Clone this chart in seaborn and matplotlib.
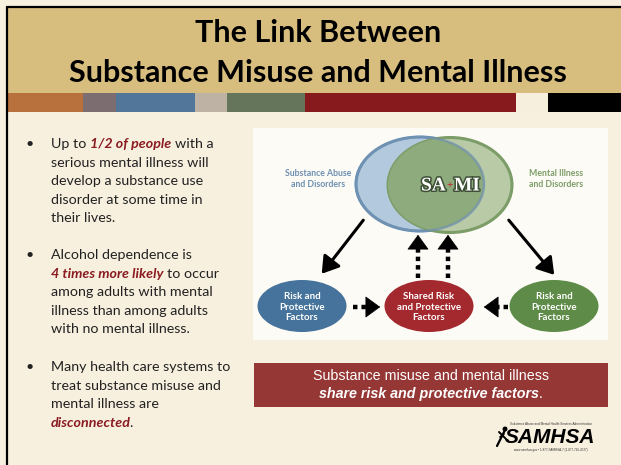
import matplotlib
matplotlib.use("Agg")
import matplotlib.pyplot as plt
import matplotlib.patheffects as pe
from matplotlib.patches import Rectangle, Ellipse, FancyArrowPatch
import seaborn as sns

# slide content
title_lines = ["The Link Between", "Substance Misuse and Mental Illness"]
stripe_colors = ["#B8703C", "#7C6D70", "#52769A", "#BDB2A3", "#65755B",
                 "#861A1D", "#F7EFDD", "#000000"]
bullets = [
    [[("Up to", False), ("1/2 of people", True), ("with a", False)],
     [("serious mental illness will", False)],
     [("develop a substance use", False)],
     [("disorder at some time in", False)],
     [("their lives.", False)]],
    [[("Alcohol dependence is", False)],
     [("4 times more likely", True), ("to occur", False)],
     [("among adults with mental", False)],
     [("illness than among adults", False)],
     [("with no mental illness.", False)]],
    [[("Many health care systems to", False)],
     [("treat substance misuse and", False)],
     [("mental illness are", False)],
     [("disconnected", True), (".", False)]],
]
venn_labels = ["Substance Abuse\nand Disorders", "Mental Illness\nand Disorders"]
venn_center = ["SA", "+", "MI"]
factor_labels = ["Risk and\nProtective\nFactors",
                 "Shared Risk\nand Protective\nFactors",
                 "Risk and\nProtective\nFactors"]
factor_colors = ["#46739B", "#A3292E", "#5E8B47"]
banner_lines = ["Substance misuse and mental illness",
                "share risk and protective factors"]
logo_text = "SAMHSA"

# layout (pixels)
stripe_edges = [8, 83, 116, 195, 227, 305, 516, 548, 621]
bullet_tops = [144, 255, 367]
line_pitch = 18.6
factor_x = [302, 429, 554]

CREAM = "#F8F0DF"
TAN = "#D7BE7E"
EMPH = "#8A1B21"
TEXT = "#222222"

sns.set_style("white")
plt.rcParams['font.family'] = ['Lato', 'DejaVu Sans']

fig = plt.figure(figsize=(6.21, 4.65), dpi=100)
fig.patch.set_facecolor(CREAM)
ax = fig.add_axes([0, 0, 1, 1])
ax.set_xlim(0, 621)
ax.set_ylim(465, 0)
ax.axis("off")
renderer = fig.canvas.get_renderer()

# header
ax.add_patch(Rectangle((7, 7), 614, 86, facecolor=TAN, edgecolor="none", zorder=1))
ax.plot([7, 621], [7, 7], color="black", lw=1.6, zorder=3)
ax.plot([7, 7], [7, 465], color="black", lw=1.6, zorder=3)
for i, col in enumerate(stripe_colors):
    ax.add_patch(Rectangle((stripe_edges[i], 93), stripe_edges[i + 1] - stripe_edges[i], 19,
                           facecolor=col, edgecolor="none", zorder=2))
for i, line in enumerate(title_lines):
    ax.text(318, 33 + i * 40, line, ha="center", va="center", fontsize=22,
            fontweight="bold", color="black", zorder=4)


def text_width(s, **kw):
    t = ax.text(0, 0, s, **kw)
    w = t.get_window_extent(renderer).width
    t.remove()
    return w


body_kw = dict(fontsize=10.3, va="center")
space_w = text_width("x x", **body_kw) - text_width("xx", **body_kw)

for top, lines in zip(bullet_tops, bullets):
    ax.text(30, top, "\u2022", ha="center", color=TEXT, **body_kw)
    for j, parts in enumerate(lines):
        x = 51
        y = top + j * line_pitch
        for k, (seg, strong) in enumerate(parts):
            if k > 0 and seg[0] not in ".,":
                x += space_w
            elif k > 0:
                x -= 1.5
            kw = dict(body_kw)
            if strong:
                kw.update(color=EMPH, fontweight="bold", fontstyle="italic")
            else:
                kw.update(color=TEXT)
            t = ax.text(x, y, seg, ha="left", **kw)
            x += t.get_window_extent(renderer).width

# diagram box
ax.add_patch(Rectangle((253, 128), 355, 212, facecolor="#FDFBF6", edgecolor="none", zorder=1))

blue = Ellipse((420, 184), 128, 94, facecolor="#B3C9DD", edgecolor="#7096BA", lw=2.2, zorder=2)
green = Ellipse((450, 185), 124, 95, facecolor="#B8CAA6", edgecolor="#7C9D68", lw=2.2, zorder=3)
overlap = Ellipse((450, 185), 124, 95, facecolor="#8EAB7E", edgecolor="none", zorder=4)
ax.add_patch(blue)
ax.add_patch(green)
ax.add_patch(overlap)
overlap.set_clip_path(Ellipse((420, 184), 128, 94, transform=ax.transData))
ax.add_patch(Ellipse((420, 184), 128, 94, facecolor="none", edgecolor="#6F8FAF",
                     lw=1.8, alpha=0.7, zorder=5))

shadow = [pe.withStroke(linewidth=2.2, foreground="#3D4F35")]
serif = dict(family=["Liberation Serif", "DejaVu Serif"], fontweight="bold",
             va="center", zorder=6)
ax.text(446, 186, venn_center[0], ha="right", color="white", fontsize=14,
        path_effects=shadow, **serif)
ax.text(450, 185, venn_center[1], ha="center", color="#C0272D", fontsize=8, **serif)
ax.text(454, 186, venn_center[2], ha="left", color="white", fontsize=14,
        path_effects=shadow, **serif)

ax.text(318, 179, venn_labels[0], ha="center", va="center", fontsize=6.3,
        fontweight="bold", color="#6F90B2", linespacing=1.2, zorder=6)
ax.text(556, 179, venn_labels[1], ha="center", va="center", fontsize=6.3,
        fontweight="bold", color="#7C9D67", linespacing=1.2, zorder=6)

for x, lab, col in zip(factor_x, factor_labels, factor_colors):
    ax.add_patch(Ellipse((x, 306), 89, 52, facecolor=col, edgecolor="none", zorder=2))
    ax.text(x, 307, lab, ha="center", va="center", fontsize=7, fontweight="bold",
            color="white", linespacing=1.2, zorder=6)

# solid arrows
for a, b in [((365, 218), (320, 276)), ((507, 218), (556, 277))]:
    ax.add_patch(FancyArrowPatch(a, b, arrowstyle="-|>,head_length=0.55,head_width=0.35",
                                 mutation_scale=18, lw=2.2, color="black", zorder=6))


def dotted_arrow(start, end):
    dx, dy = end[0] - start[0], end[1] - start[1]
    n = (dx * dx + dy * dy) ** 0.5
    ux, uy = dx / n, dy / n
    neck = (end[0] - ux * 10, end[1] - uy * 10)
    ax.plot([start[0], neck[0]], [start[1], neck[1]], color="black", lw=3.2,
            linestyle=(0, (1.0, 0.9)), solid_capstyle="butt", dash_capstyle="butt", zorder=6)
    ax.add_patch(FancyArrowPatch((end[0] - ux * 11, end[1] - uy * 11), end,
                                 arrowstyle="-|>,head_length=0.55,head_width=0.4",
                                 mutation_scale=18, lw=0.5, color="black", zorder=6))


dotted_arrow((418, 278), (418, 232))
dotted_arrow((448, 278), (448, 232))
dotted_arrow((353, 307), (383, 307))
dotted_arrow((508, 307), (481, 307))

# banner
ax.add_patch(Rectangle((254, 363), 354, 44, facecolor="#953735", edgecolor="none", zorder=1))
arial = ["Liberation Sans", "DejaVu Sans"]
ax.text(431, 376, banner_lines[0], ha="center", va="center", fontsize=10.3,
        color="white", family=arial, zorder=3)
b2 = ax.text(429, 394, banner_lines[1], ha="center", va="center", fontsize=10.3,
             color="white", family=arial, fontweight="bold", fontstyle="italic", zorder=3)
bb = b2.get_window_extent(renderer)
ax.text(429 + bb.width / 2, 394, ".", ha="left", va="center", fontsize=10.3,
        color="white", family=arial, zorder=3)

# logo
ax.text(505, 437, logo_text, ha="left", va="center", fontsize=15, fontweight="bold",
        fontstyle="italic", color="black", family=arial, zorder=3)
ax.text(551, 424, "Substance Abuse and Mental Health Services Administration", ha="center",
        va="center", fontsize=2.2, color="#333333", family=arial)
ax.text(551, 450, "www.samhsa.gov \u2022 1-877-SAMHSA-7 (1-877-726-4727)", ha="center",
        va="center", fontsize=2.2, color="#333333", family=arial)
ax.plot([497, 506], [446, 428], color="black", lw=1.6)
ax.plot([499, 507], [432, 440], color="black", lw=1.4)
ax.plot([500, 504], [437, 434], color="black", lw=1.2)
ax.add_patch(Ellipse((505, 429), 3.5, 3.5, color="black"))

fig.savefig("out.png", dpi=100, facecolor=CREAM)
